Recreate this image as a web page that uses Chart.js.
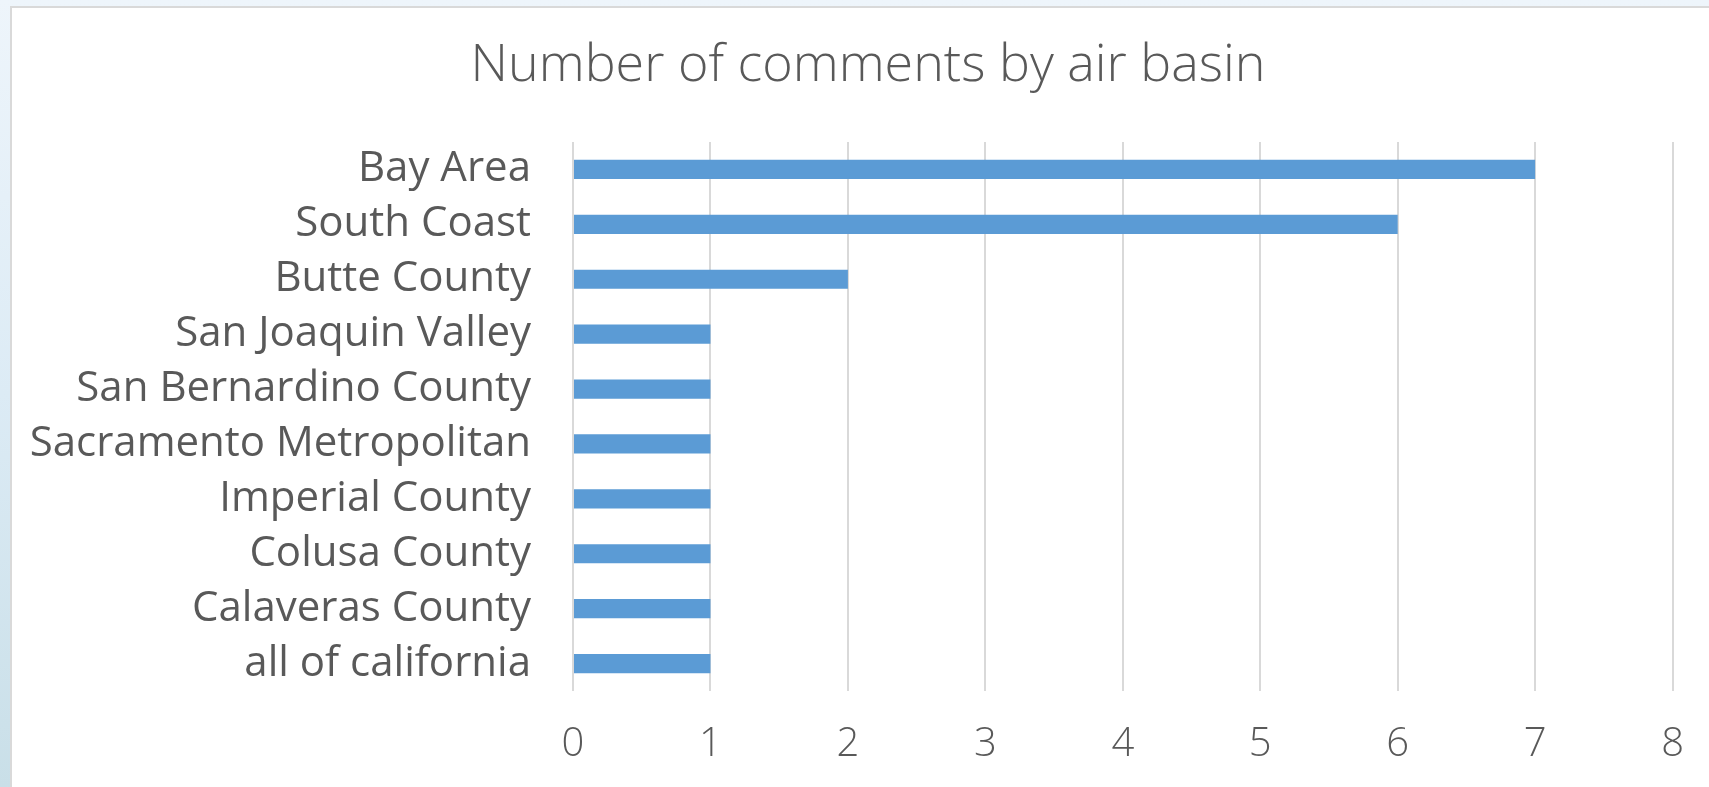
<!DOCTYPE html>
<html>
<head>
<meta charset="utf-8">
<script src="https://cdn.jsdelivr.net/npm/chart.js@4"></script>
<style>
    html, body { margin: 0; padding: 0; overflow: hidden; }
    body {
        width: 1709px; height: 787px;
        background: linear-gradient(to bottom, #eef5fb 0%, #dcebf5 50%, #c9dfe8 100%);
        position: relative;
    }
    .card {
        position: absolute; left: 10px; top: 6px;
        width: 1720px; height: 800px;
        background: #fff;
        border: 2px solid #d9d9d9;
    }
    /* a little wider than the window: the card runs off the right edge */
    .wrap { position: absolute; left: 0; top: 0; width: 1714px; height: 787px; }
</style>
</head>
<body>
<div class="card"></div>
<div class="wrap"><canvas id="basinChart"></canvas></div>
<script>
// Data
const basins = [
    'Bay Area', 'South Coast', 'Butte County', 'San Joaquin Valley',
    'San Bernardino County', 'Sacramento Metropolitan', 'Imperial County',
    'Colusa County', 'Calaveras County', 'all of california'
];
const commentCounts = [7, 6, 2, 1, 1, 1, 1, 1, 1, 1];
const xTicks = [0, 1, 2, 3, 4, 5, 6, 7, 8];
const chartTitle = 'Number of comments by air basin';

document.addEventListener('DOMContentLoaded', function() {
    const fontFamily = "'Open Sans', 'Lato', sans-serif";
    const textColor = '#595959';

    // Title is centred on the whole card (not the plot), so draw it ourselves
    const titlePlugin = {
        id: 'cardTitle',
        afterDraw: function(chart) {
            const c = chart.ctx;
            c.save();
            c.font = "300 52px " + fontFamily;
            c.fillStyle = textColor;
            c.textAlign = 'center';
            c.textBaseline = 'middle';
            c.fillText(chartTitle, 868, 66);
            c.restore();
        }
    };

    const ctx = document.getElementById('basinChart').getContext('2d');
    const basinChart = new Chart(ctx, {
        type: 'bar',
        data: {
            labels: basins,
            datasets: [{
                label: 'Comments',
                data: commentCounts,
                backgroundColor: '#5b9bd5',
                borderWidth: 0,
                barPercentage: 0.35,
                categoryPercentage: 1
            }]
        },
        options: {
            indexAxis: 'y',
            responsive: true,
            maintainAspectRatio: false,
            animation: false,
            layout: {
                padding: { left: 0, right: 32, top: 142, bottom: 0 }
            },
            plugins: {
                legend: { display: false },
                tooltip: { enabled: false },
                title: { display: false }
            },
            scales: {
                x: {
                    min: xTicks[0],
                    max: xTicks[xTicks.length - 1],
                    afterBuildTicks: function(scale) {
                        scale.ticks = xTicks.map(v => ({ value: v }));
                    },
                    afterFit: function(scale) {
                        scale.height = 96;
                    },
                    grid: {
                        color: '#d9d9d9',
                        lineWidth: 2,
                        drawTicks: false
                    },
                    border: { display: false },
                    ticks: {
                        color: textColor,
                        font: { family: fontFamily, size: 40, weight: '300', lineHeight: 1.2 },
                        padding: 30
                    }
                },
                y: {
                    grid: { display: false, drawTicks: false },
                    border: { display: false },
                    ticks: {
                        color: textColor,
                        font: { family: fontFamily, size: 42, weight: '400' },
                        padding: 42
                    },
                    afterFit: function(scale) {
                        scale.width = 573;
                    }
                }
            }
        },
        plugins: [titlePlugin]
    });
});
</script>
</body>
</html>
